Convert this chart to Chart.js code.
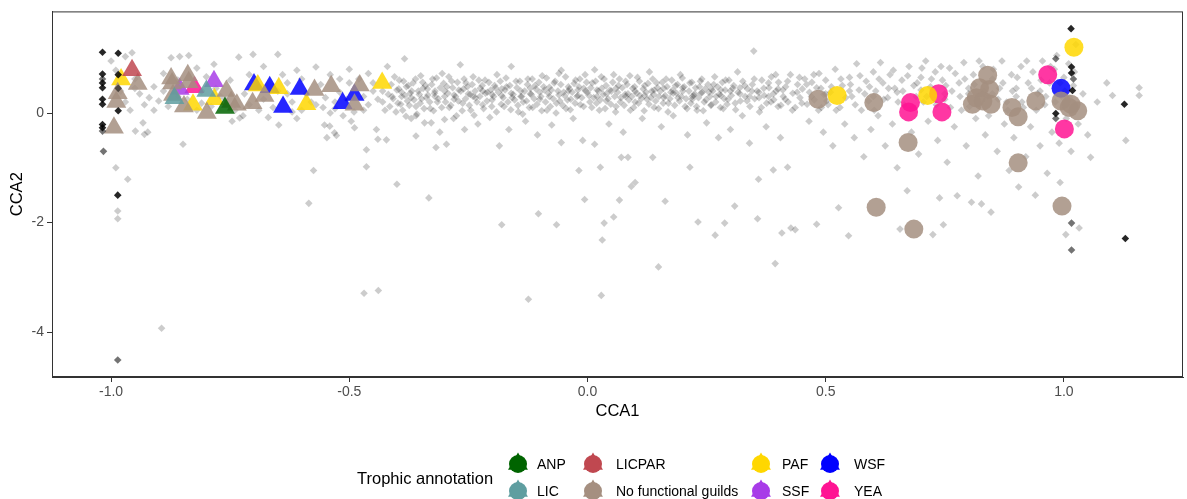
<!DOCTYPE html>
<html>
<head>
<meta charset="utf-8">
<script src="https://cdn.jsdelivr.net/npm/chart.js@4/dist/chart.umd.min.js"></script>
<style>
  body { margin: 0; background: #fff; }
  #wrap { width: 1187px; height: 499px; }
</style>
</head>
<body>
<div id="wrap"><canvas id="ccaPlot" width="1187" height="499"></canvas></div>
<script>
// axis ticks
let xTickValues = [-1.0, -0.5, 0.0, 0.5, 1.0];
let yTickValues = [-4, -2, 0];

// trophic guilds (legend order)
let guildNames = ["ANP", "LIC", "LICPAR", "No functional guilds", "PAF", "SSF", "WSF", "YEA"];
let guildColors = ["#006400", "#5F9EA0", "#C04850", "#A58F80", "#FFD700", "#A83CE8", "#0000FF", "#FF1493"];

// [CCA1, CCA2] per guild
let anpPoints = [[-0.761, 0.09]];
let licPoints = [[-0.867, 0.27], [-0.80, 0.40]];
let licparPoints = [[-0.956, 0.78]];
let nfgPoints = [
  [-0.944, 0.53], [-0.986, 0.36], [-0.989, 0.20], [-0.994, -0.27], [-0.874, 0.63], [-0.839, 0.69],
  [-0.872, 0.54], [-0.837, 0.56], [-0.870, 0.33], [-0.847, 0.12], [-0.799, 0.0], [-0.758, 0.40],
  [-0.748, 0.20], [-0.736, 0.15], [-0.703, 0.18], [-0.678, 0.31], [-0.573, 0.42], [-0.538, 0.49],
  [-0.478, 0.50], [-0.489, 0.15],
  [0.484, 0.25], [0.601, 0.19], [0.673, -0.54], [0.904, -0.91], [0.606, -1.72], [0.685, -2.12],
  [0.996, -1.70], [0.84, 0.69], [0.823, 0.46], [0.844, 0.43], [0.816, 0.28], [0.83, 0.22],
  [0.847, 0.16], [0.808, 0.16], [0.891, 0.10], [0.904, -0.07], [0.941, 0.22], [0.994, 0.22],
  [1.015, 0.16], [1.029, 0.04], [1.011, 0.10]
];
let pafPoints = [
  [-0.979, 0.61], [-0.828, 0.15], [-0.783, 0.25], [-0.692, 0.50], [-0.648, 0.45], [-0.59, 0.16],
  [-0.431, 0.55], [0.524, 0.32], [0.714, 0.32], [1.021, 1.20]
];
let ssfPoints = [[-0.856, 0.44], [-0.784, 0.58]];
let wsfPoints = [
  [-0.70, 0.52], [-0.667, 0.47], [-0.639, 0.11], [-0.604, 0.44], [-0.514, 0.18], [-0.489, 0.33],
  [0.994, 0.45]
];
let yeaPoints = [
  [-0.825, 0.47], [0.678, 0.19], [0.674, 0.02], [0.737, 0.35], [0.744, 0.02], [0.966, 0.70], [1.001, -0.29]
];

// taxa without guild (grey diamonds)
let backgroundTaxa = [
  // left part
  [-1.00, 0.95], [-0.99, 0.78], [-0.97, 1.03], [-0.956, 1.10], [-0.95, 0.62], [-0.94, 0.35], [-0.93, 0.15],
  [-0.933, -0.18], [-0.949, -0.33], [-0.93, -0.39], [-0.923, -0.35], [-0.91, 0.48], [-0.90, 0.22],
  [-0.89, 0.72], [-0.874, 1.01], [-0.856, 1.03], [-0.837, 1.05], [-0.849, -0.57], [-0.86, 0.30],
  [-0.82, 0.82], [-0.81, 0.18], [-0.80, 0.66], [-0.784, 0.89], [-0.77, 0.30], [-0.746, -0.15],
  [-0.732, 1.02], [-0.73, -0.09], [-0.723, -0.05], [-0.702, 1.07], [-0.71, 0.70], [-0.69, 0.05],
  [-0.68, 0.85], [-0.67, -0.08], [-0.65, 1.07], [-0.648, -0.22], [-0.64, 0.70], [-0.63, 0.35],
  [-0.62, 0.02], [-0.61, 0.78], [-0.60, 0.62], [-0.585, -1.65], [-0.575, -1.05], [-0.58, 0.20],
  [-0.57, 0.84], [-0.552, -0.22], [-0.541, -0.24], [-0.547, -0.45], [-0.531, -0.36], [-0.527, -0.41],
  [-0.54, 0.70], [-0.52, 0.62], [-0.513, -0.05], [-0.496, -0.15], [-0.489, -0.27], [-0.50, 0.80],
  [-0.48, 0.62], [-0.47, 0.05], [-0.464, -0.67], [-0.464, -0.98], [-0.46, 0.72], [-0.45, 0.40],
  [-0.443, -0.30], [-0.44, -0.48], [-0.422, -0.49], [-0.43, 0.20], [-0.42, 0.85], [-0.41, 0.30],
  [-0.40, -1.30], [-0.469, -3.29], [-0.439, -3.24], [-0.894, -3.93], [-0.99, -1.00], [-0.965, -1.21],
  [-0.986, -1.79], [-0.986, -1.93],
  [-0.98, 0.40], [-0.97, 0.20], [-0.96, 0.05], [-0.95, 0.45], [-0.92, 0.28], [-0.91, 0.05], [-0.89, 0.40],
  [-0.88, 0.12], [-0.86, 0.60], [-0.84, 0.25], [-0.82, 0.05], [-0.81, 0.40], [-0.79, 0.12], [-0.78, 0.45],
  [-0.76, 0.25], [-0.75, 0.60], [-0.74, 0.05], [-0.72, 0.35], [-0.71, 0.15], [-0.69, 0.48], [-0.68, 0.25],
  [-0.66, 0.10], [-0.65, 0.40], [-0.63, 0.55], [-0.62, 0.20], [-0.60, 0.05], [-0.59, 0.35], [-0.57, 0.15],
  [-0.56, 0.52], [-0.55, 0.28], [-0.53, 0.08], [-0.52, 0.38], [-0.50, 0.55], [-0.49, 0.02], [-0.47, 0.30],
  [-0.46, 0.15], [-0.45, 0.55], [-0.44, 0.25], [-0.43, 0.40], [-0.425, 0.05], [-0.54, 0.00], [-0.61, -0.10],
  [-0.53, 0.20], [-0.555, 0.10], [-0.505, 0.25],
  // dense band, left of 0
  [-0.40, 0.42], [-0.398, 0.18], [-0.395, 0.60], [-0.39, 0.30], [-0.388, 0.05], [-0.384, 0.99],
  [-0.38, 0.48], [-0.378, 0.22], [-0.372, 0.36], [-0.37, -0.10], [-0.366, 0.55], [-0.36, 0.12],
  [-0.355, 0.40], [-0.35, 0.68], [-0.348, 0.26], [-0.342, -0.18], [-0.34, 0.50], [-0.335, 0.33],
  [-0.333, -1.55], [-0.33, 0.08], [-0.325, 0.62], [-0.32, 0.40], [-0.318, -0.63], [-0.315, 0.20],
  [-0.31, -0.35], [-0.305, 0.72], [-0.30, 0.30], [-0.296, -0.57], [-0.295, 0.48], [-0.29, 0.10],
  [-0.285, 0.58], [-0.28, 0.25], [-0.275, -0.05], [-0.27, 0.42], [-0.267, 0.88], [-0.262, 0.18],
  [-0.258, -0.30], [-0.255, 0.55], [-0.25, 0.35], [-0.245, 0.05], [-0.24, 0.66], [-0.235, 0.28],
  [-0.23, -0.20], [-0.225, 0.45], [-0.22, 0.15], [-0.215, 0.60], [-0.21, 0.38], [-0.205, -0.08],
  [-0.20, 0.24], [-0.195, 0.50], [-0.19, 0.70], [-0.185, -0.60], [-0.18, -2.04], [-0.18, 0.32],
  [-0.175, 0.12], [-0.17, 0.48], [-0.165, -0.30], [-0.16, 0.85], [-0.158, 0.28], [-0.15, 0.58],
  [-0.145, 0.02], [-0.14, 0.40], [-0.135, 0.20], [-0.13, -0.15], [-0.124, -3.40], [-0.125, 0.62],
  [-0.12, 0.35], [-0.115, 0.10], [-0.11, 0.50], [-0.105, -0.40], [-0.103, -1.84], [-0.10, 0.25],
  [-0.095, 0.68], [-0.09, 0.42], [-0.085, 0.05], [-0.08, 0.30], [-0.075, -0.22], [-0.07, 0.55],
  [-0.065, -2.04], [-0.065, 0.18], [-0.06, 0.72], [-0.055, 0.78], [-0.055, -0.54], [-0.05, 0.38],
  [-0.045, 0.08], [-0.04, 0.48], [-0.035, 0.25], [-0.03, -0.10], [-0.025, 0.60], [-0.02, 0.32],
  [-0.018, -1.05], [-0.015, 0.15], [-0.01, -0.50], [-0.008, 0.45], [-0.006, -1.58], [-0.005, 0.70],
  [-0.39, 0.38], [-0.37, 0.28], [-0.345, 0.45], [-0.32, 0.30], [-0.30, 0.40], [-0.28, 0.33],
  [-0.26, 0.44], [-0.24, 0.30], [-0.22, 0.40], [-0.20, 0.34], [-0.18, 0.44], [-0.16, 0.36],
  [-0.14, 0.30], [-0.12, 0.45], [-0.10, 0.38], [-0.08, 0.47], [-0.06, 0.33], [-0.04, 0.40],
  [-0.02, 0.42], [-0.36, -0.05], [-0.30, -0.12], [-0.328, -0.18], [-0.36, -0.42],
  [-0.418, 0.34], [-0.415, 0.12], [-0.412, 0.52], [-0.408, 0.26], [-0.405, 0.66], [-0.402, 0.02],
  [-0.396, 0.44], [-0.392, 0.16], [-0.386, 0.58], [-0.383, 0.32], [-0.381, -0.06], [-0.376, 0.50],
  [-0.374, 0.14], [-0.369, 0.40], [-0.364, 0.24], [-0.361, 0.62], [-0.358, -0.02], [-0.353, 0.34],
  [-0.351, 0.18], [-0.346, 0.56], [-0.343, 0.08], [-0.338, 0.28], [-0.336, 0.44], [-0.331, 0.20],
  [-0.327, 0.52], [-0.323, 0.04], [-0.321, 0.36], [-0.317, 0.64], [-0.313, 0.26], [-0.309, 0.46],
  [-0.306, 0.10], [-0.302, 0.54],
  [-0.298, 0.20], [-0.293, 0.36], [-0.291, 0.66], [-0.287, 0.14], [-0.283, 0.46], [-0.281, -0.10],
  [-0.277, 0.30], [-0.273, 0.56], [-0.271, 0.22], [-0.266, 0.40], [-0.263, 0.04], [-0.259, 0.62],
  [-0.256, 0.26], [-0.252, 0.48], [-0.248, 0.14], [-0.246, 0.34], [-0.242, 0.52], [-0.238, -0.04],
  [-0.236, 0.40], [-0.232, 0.20], [-0.228, 0.60], [-0.226, 0.30], [-0.221, 0.50], [-0.218, 0.08],
  [-0.214, 0.36], [-0.211, 0.22], [-0.207, 0.56], [-0.203, 0.42], [-0.201, 0.12], [-0.197, 0.30],
  [-0.193, 0.46], [-0.191, 0.02], [-0.187, 0.38], [-0.183, 0.58], [-0.181, 0.16], [-0.177, 0.28],
  [-0.173, 0.42], [-0.171, 0.64], [-0.167, 0.20], [-0.163, 0.50], [-0.161, 0.06], [-0.156, 0.34],
  [-0.153, 0.24],
  [-0.148, 0.46], [-0.146, 0.14], [-0.142, 0.58], [-0.138, 0.30], [-0.136, -0.02], [-0.132, 0.40],
  [-0.128, 0.22], [-0.126, 0.52], [-0.122, 0.10], [-0.118, 0.34], [-0.116, 0.62], [-0.112, 0.26],
  [-0.108, 0.44], [-0.106, 0.16], [-0.102, 0.56], [-0.098, 0.30], [-0.096, 0.04], [-0.092, 0.48],
  [-0.088, 0.20], [-0.086, 0.64], [-0.082, 0.36], [-0.078, 0.12], [-0.076, 0.42], [-0.072, 0.26],
  [-0.068, 0.58], [-0.066, 0.00], [-0.062, 0.40], [-0.058, 0.22], [-0.056, 0.52], [-0.052, 0.14],
  [-0.048, 0.32], [-0.046, 0.66], [-0.042, 0.24], [-0.038, 0.44], [-0.036, 0.06], [-0.032, 0.38],
  [-0.028, 0.54], [-0.026, 0.18], [-0.022, 0.30], [-0.018, 0.48], [-0.016, 0.62], [-0.012, 0.28],
  [-0.008, 0.12], [-0.004, 0.40], [-0.002, 0.56],
  // dense band, right of 0
  [0.0, 0.38], [0.005, 0.20], [0.01, 0.55], [0.015, 0.79], [0.015, -0.57], [0.02, 0.30], [0.025, 0.05],
  [0.027, -0.99], [0.029, -3.33], [0.03, 0.45], [0.031, -2.32], [0.035, -2.01], [0.055, -1.90],
  [0.035, 0.62], [0.04, 0.22], [0.045, -0.20], [0.05, 0.40], [0.055, 0.70], [0.06, 0.12], [0.065, 0.50],
  [0.067, -1.59], [0.07, 0.28], [0.071, -0.81], [0.075, -0.35], [0.08, 0.58], [0.085, -0.81],
  [0.085, 0.35], [0.09, 0.05], [0.092, -1.34], [0.095, 0.45], [0.10, -1.27], [0.10, 0.20],
  [0.105, 0.65], [0.11, 0.32], [0.115, -0.10], [0.12, 0.50], [0.125, 0.25], [0.13, 0.75], [0.135, 0.40],
  [0.137, -0.81], [0.14, 0.10], [0.145, 0.55], [0.149, -2.81], [0.15, 0.30], [0.155, -0.25],
  [0.16, 0.45], [0.163, -1.61], [0.165, 0.62], [0.17, 0.18], [0.175, 0.38], [0.18, -0.05], [0.185, 0.50],
  [0.19, 0.28], [0.195, 0.70], [0.20, 0.40], [0.205, 0.12], [0.21, -0.40], [0.215, -0.99], [0.215, 0.55],
  [0.22, 0.25], [0.225, 0.35], [0.23, 0.05], [0.232, -1.99], [0.235, 0.48], [0.24, 0.62], [0.245, 0.20],
  [0.25, -0.18], [0.255, 0.38], [0.26, 0.15], [0.265, 0.52], [0.268, -2.23], [0.27, 0.30], [0.275, -0.45],
  [0.28, 0.42], [0.285, 0.08], [0.288, -2.01], [0.29, 0.60], [0.295, 0.25], [0.30, -0.30], [0.305, 0.45],
  [0.309, -1.70], [0.31, 0.18], [0.315, 0.75], [0.32, 0.35], [0.325, -0.05], [0.33, 0.50], [0.335, 0.22],
  [0.34, -0.55], [0.345, 0.40], [0.349, 1.13], [0.35, 0.62], [0.357, -1.93], [0.359, -1.21], [0.36, 0.28],
  [0.365, 0.10], [0.37, 0.45], [0.375, -0.25], [0.38, 0.55], [0.385, 0.20], [0.39, -1.04], [0.39, 0.35],
  [0.394, -2.75], [0.395, 0.70], [0.40, 0.12], [0.405, -0.45], [0.408, -2.19], [0.41, 0.42], [0.415, 0.25],
  [0.42, -0.99], [0.42, 0.58], [0.427, -2.10], [0.43, 0.05], [0.436, -2.13], [0.44, 0.38], [0.445, 0.65],
  [0.45, 0.18],
  [0.02, 0.42], [0.04, 0.35], [0.06, 0.45], [0.08, 0.30], [0.10, 0.40], [0.12, 0.32], [0.14, 0.42],
  [0.16, 0.28], [0.18, 0.36], [0.20, 0.46], [0.22, 0.30], [0.24, 0.38], [0.26, 0.44], [0.28, 0.32],
  [0.30, 0.40], [0.32, 0.46], [0.34, 0.30], [0.36, 0.38], [0.38, 0.30], [0.40, 0.44],
  [0.003, 0.32], [0.007, 0.46], [0.009, 0.10], [0.013, 0.28], [0.017, 0.58], [0.019, 0.18], [0.023, 0.40],
  [0.027, 0.24], [0.029, 0.66], [0.033, 0.34], [0.037, 0.08], [0.039, 0.50], [0.043, 0.26], [0.047, 0.42],
  [0.049, 0.16], [0.053, 0.56], [0.057, 0.30], [0.059, 0.02], [0.063, 0.38], [0.067, 0.62], [0.069, 0.20],
  [0.073, 0.46], [0.077, 0.14], [0.079, 0.34], [0.083, 0.52], [0.087, 0.24], [0.089, 0.68], [0.093, 0.30],
  [0.097, 0.10], [0.099, 0.48], [0.103, 0.36], [0.107, 0.18], [0.109, 0.58], [0.113, 0.26], [0.117, 0.44],
  [0.119, 0.04], [0.123, 0.38], [0.127, 0.54], [0.129, 0.16], [0.133, 0.28], [0.137, 0.62], [0.139, 0.34],
  [0.143, 0.22], [0.147, 0.46], [0.149, 0.08],
  [0.153, 0.40], [0.157, 0.56], [0.159, 0.18], [0.163, 0.32], [0.167, 0.48], [0.169, 0.02], [0.173, 0.26],
  [0.177, 0.60], [0.179, 0.42], [0.183, 0.14], [0.187, 0.36], [0.189, 0.52], [0.193, 0.22], [0.197, 0.30],
  [0.199, 0.64], [0.203, 0.48], [0.207, 0.26], [0.209, 0.08], [0.213, 0.40], [0.217, 0.18], [0.219, 0.56],
  [0.223, 0.32], [0.227, 0.46], [0.229, 0.12], [0.233, 0.28], [0.237, 0.58], [0.239, 0.36], [0.243, 0.04],
  [0.247, 0.44], [0.249, 0.24], [0.253, 0.52], [0.257, 0.30], [0.259, 0.14], [0.263, 0.40], [0.267, 0.66],
  [0.269, 0.20], [0.273, 0.48], [0.277, 0.34], [0.279, 0.10], [0.283, 0.56], [0.287, 0.26], [0.289, 0.42],
  [0.293, 0.16], [0.297, 0.60],
  [0.302, 0.32], [0.307, 0.50], [0.311, 0.06], [0.316, 0.38], [0.321, 0.22], [0.326, 0.58], [0.331, 0.30],
  [0.336, 0.44], [0.341, 0.12], [0.346, 0.52], [0.351, 0.26], [0.356, 0.40], [0.361, 0.02], [0.366, 0.60],
  [0.371, 0.32], [0.376, 0.18], [0.381, 0.46], [0.386, 0.66], [0.391, 0.24], [0.396, 0.40], [0.401, 0.56],
  [0.406, 0.14], [0.411, 0.30], [0.416, 0.48], [0.421, 0.20], [0.426, 0.70], [0.431, 0.36], [0.436, 0.10],
  [0.441, 0.52], [0.446, 0.28], [0.451, 0.44], [0.456, 0.62], [0.461, 0.16], [0.466, 0.38], [0.471, 0.56],
  [0.476, 0.24], [0.481, 0.46], [0.486, 0.72], [0.491, 0.10], [0.496, 0.34],
  // right part
  [0.46, 0.52], [0.465, -0.15], [0.47, 0.30], [0.475, 0.70], [0.481, -2.03], [0.485, 0.05], [0.49, 0.45],
  [0.495, -0.35], [0.50, 0.60], [0.505, 0.15], [0.51, 0.38], [0.515, -0.60], [0.52, 0.80], [0.527, -1.73],
  [0.53, 0.10], [0.535, 0.50], [0.54, -0.20], [0.548, -2.24], [0.55, 0.65], [0.555, 0.30], [0.56, -0.45],
  [0.565, 0.90], [0.57, 0.42], [0.575, 0.05], [0.58, -0.80], [0.585, 0.58], [0.59, 0.22], [0.595, -0.30],
  [0.60, 0.75], [0.605, 0.40], [0.61, -0.05], [0.615, 0.92], [0.62, 0.55], [0.625, -0.60], [0.63, 0.28],
  [0.635, 0.70], [0.64, -0.20], [0.645, 0.45], [0.65, -1.0], [0.656, -2.12], [0.66, 0.60], [0.665, 0.15],
  [0.671, -1.42], [0.675, 0.85], [0.68, -0.35], [0.685, 0.50], [0.69, 0.30], [0.695, -0.75], [0.70, 0.65],
  [0.705, 0.20], [0.71, 0.95], [0.715, -0.15], [0.72, 0.48], [0.725, -2.22], [0.73, 0.75], [0.735, -0.50],
  [0.739, -1.55], [0.745, 0.60], [0.747, -2.04], [0.75, 0.25], [0.755, -0.90], [0.76, 0.82], [0.765, 0.40],
  [0.77, -0.25], [0.776, -1.51], [0.78, 0.55], [0.785, 0.05], [0.79, 0.92], [0.795, -0.60], [0.80, 0.35],
  [0.806, -1.63], [0.81, 0.70], [0.815, -0.10], [0.82, -1.15], [0.827, -1.66], [0.83, 0.85], [0.835, -0.40],
  [0.84, 0.30], [0.847, -1.81], [0.85, 0.62], [0.86, -0.70], [0.865, 0.45], [0.87, 0.95], [0.875, -0.20],
  [0.88, 0.20], [0.885, -1.05], [0.89, 0.70], [0.895, -0.45], [0.90, 0.45], [0.905, -1.35], [0.91, 0.85],
  [0.915, 0.10], [0.92, -0.80], [0.925, 0.55], [0.93, -0.25], [0.935, 0.75], [0.94, -1.50], [0.945, 0.35],
  [0.95, -0.60], [0.955, 0.95], [0.96, 0.15], [0.965, -1.10], [0.97, 0.55], [0.975, -0.35], [0.98, 0.80],
  [0.985, 1.05], [0.99, -0.55], [0.992, -1.27], [0.995, 0.30], [1.0, 0.65], [1.004, -2.22], [1.005, -0.10],
  [1.01, 0.90], [1.015, -0.70], [1.02, 0.50], [1.025, 1.25], [1.03, -0.20], [1.032, -2.10], [1.04, 0.35],
  [1.05, -0.40], [1.056, -0.81], [1.07, 0.20], [1.09, 0.55], [1.102, 0.32], [1.158, 0.46], [1.158, 0.32],
  [1.13, -0.50],
  [0.50, 0.35], [0.55, 0.40], [0.60, 0.30], [0.65, 0.38], [0.70, 0.42], [0.75, 0.35], [0.80, 0.45],
  [0.85, 0.35], [0.90, 0.30], [0.95, 0.40],
  [0.502, 0.22], [0.512, 0.48], [0.522, 0.05], [0.532, 0.62], [0.542, 0.28], [0.552, 0.52], [0.562, 0.15],
  [0.572, 0.68], [0.582, 0.35], [0.592, 0.48], [0.602, 0.05], [0.612, 0.62], [0.622, 0.25], [0.632, 0.45],
  [0.642, 0.78], [0.652, 0.20], [0.662, 0.40], [0.672, 0.68], [0.682, 0.10], [0.692, 0.55], [0.702, 0.82],
  [0.712, 0.30], [0.722, 0.62], [0.732, 0.15], [0.742, 0.85], [0.752, 0.50], [0.762, 0.10], [0.772, 0.72],
  [0.782, 0.30], [0.792, 0.62], [0.802, 0.12], [0.812, 0.52], [0.822, 0.95], [0.832, 0.40], [0.842, -0.05],
  [0.852, 0.80], [0.862, 0.25], [0.872, 0.55], [0.882, 0.05], [0.892, 0.40], [0.902, 0.65], [0.912, 0.20],
  [0.922, 0.95], [0.932, 0.45], [0.942, 0.05], [0.952, 0.60], [0.962, 0.30], [0.972, 0.85], [0.982, 0.20],
  [0.992, 0.55], [1.002, 0.40], [1.012, 0.28], [1.022, 0.75]
];

let darkTaxa = [
  [-1.016, -0.70], [-1.018, -0.33], [-0.986, -4.51], [-1.018, 0.62], [-0.985, 0.45], [0.983, 0.99],
  [1.016, -2.01], [1.016, -2.50], [0.983, -0.10], [1.02, 0.62]
];
let blackTaxa = [
  [-1.018, 1.11], [-0.985, 1.09], [-1.018, 0.71], [-0.985, 0.70], [-1.018, 0.55], [-1.018, 0.46],
  [-1.018, 0.25], [-1.018, 0.16], [-0.985, 0.04], [-1.018, -0.21], [-1.018, -0.27], [-0.986, -1.50],
  [1.015, 1.54], [1.016, 0.84], [1.016, 0.73], [1.018, 0.41], [0.983, -0.01], [1.127, 0.16], [1.129, -2.29]
];

let guildPoints = [anpPoints, licPoints, licparPoints, nfgPoints, pafPoints, ssfPoints, wsfPoints, yeaPoints];

function toXY(list) {
  return list.map(p => ({ x: p[0], y: p[1] }));
}

function withAlpha(hex, a) {
  let r = parseInt(hex.slice(1, 3), 16);
  let g = parseInt(hex.slice(3, 5), 16);
  let b = parseInt(hex.slice(5, 7), 16);
  return "rgba(" + r + "," + g + "," + b + "," + a + ")";
}

let fontFamily = '"Liberation Sans", Arial, sans-serif';

let datasets = [];
datasets.push({
  label: "dark", data: toXY(blackTaxa), order: 1,
  pointStyle: "rectRot", pointRadius: 3.8, borderWidth: 0,
  backgroundColor: "rgba(0,0,0,0.85)"
});
datasets.push({
  label: "dark2", data: toXY(darkTaxa), order: 1,
  pointStyle: "rectRot", pointRadius: 3.8, borderWidth: 0,
  backgroundColor: "rgba(0,0,0,0.55)"
});
for (let i = 0; i < guildNames.length; i++) {
  datasets.push({
    label: guildNames[i],
    data: toXY(guildPoints[i]),
    order: 5,
    // triangles on the negative CCA1 side, circles on the positive side
    pointStyle: ctx => (ctx.raw && ctx.raw.x < 0 ? "triangle" : "circle"),
    pointRadius: ctx => (ctx.raw && ctx.raw.x < 0 ? 11.5 : 9.5),
    borderWidth: 0,
    backgroundColor: withAlpha(guildColors[i], 0.85)
  });
}
datasets.push({
  label: "other", data: toXY(backgroundTaxa), order: 10,
  pointStyle: "rectRot", pointRadius: 3.8, borderWidth: 0,
  backgroundColor: "rgba(0,0,0,0.2)"
});

function drawGuildSymbol(ctx, x, y, color) {
  ctx.fillStyle = color;
  ctx.beginPath();
  ctx.arc(x, y, 9, 0, Math.PI * 2);
  ctx.fill();
  ctx.beginPath();
  for (let k = 0; k < 3; k++) {
    let a = k * 2 * Math.PI / 3;
    let px = x + Math.sin(a) * 11.5;
    let py = y - Math.cos(a) * 11.5;
    if (k == 0) ctx.moveTo(px, py); else ctx.lineTo(px, py);
  }
  ctx.closePath();
  ctx.fill();
}

// panel box + legend at the bottom (columns filled top to bottom like ggplot)
const panelAndLegend = {
  id: "panelAndLegend",
  afterDraw(chart) {
    let ctx = chart.ctx;
    let area = chart.chartArea;
    ctx.save();
    ctx.strokeStyle = "#333333";
    ctx.lineWidth = 1;
    ctx.strokeRect(area.left + 0.5, area.top + 0.5, area.right - area.left - 1, area.bottom - area.top - 1);

    ctx.textBaseline = "middle";
    ctx.textAlign = "left";
    ctx.fillStyle = "#000";
    ctx.font = "16.5px " + fontFamily;
    ctx.fillText("Trophic annotation", 357, 479);

    let symbolX = [518, 593, 761, 830];
    let textX = [537, 616, 782, 854];
    let rowY = [464, 491];
    ctx.font = "14px " + fontFamily;
    for (let i = 0; i < guildNames.length; i++) {
      let col = Math.floor(i / 2);
      let row = i % 2;
      drawGuildSymbol(ctx, symbolX[col], rowY[row], guildColors[i]);
      ctx.fillStyle = "#000";
      ctx.fillText(guildNames[i], textX[col], rowY[row] + 1);
    }
    ctx.restore();
  }
};

let axisGrid = { display: true, drawOnChartArea: false, drawTicks: true, tickLength: 5, tickColor: "#333333" };

new Chart(document.getElementById("ccaPlot"), {
  type: "scatter",
  data: { datasets: datasets },
  options: {
    responsive: false,
    animation: false,
    events: [],
    layout: { autoPadding: false, padding: { top: 10, right: 4, left: 0, bottom: 78 } },
    plugins: { legend: { display: false }, tooltip: { enabled: false } },
    scales: {
      x: {
        type: "linear", min: -1.124, max: 1.25,
        grid: axisGrid,
        border: { display: true, color: "#333333", width: 1 },
        afterBuildTicks: scale => { scale.ticks = xTickValues.map(v => ({ value: v })); },
        afterFit: scale => { scale.height = 44; },
        ticks: {
          color: "#4D4D4D", font: { family: fontFamily, size: 14 }, padding: 2,
          maxRotation: 0, autoSkip: false,
          callback: v => Number(v).toFixed(1)
        },
        title: { display: true, text: "CCA1", color: "#000", font: { family: fontFamily, size: 16.5 }, padding: { top: 0, bottom: 0 } }
      },
      y: {
        type: "linear", min: -4.82, max: 1.855,
        grid: axisGrid,
        border: { display: true, color: "#333333", width: 1 },
        afterBuildTicks: scale => { scale.ticks = yTickValues.map(v => ({ value: v })); },
        afterFit: scale => { scale.width = 52; },
        ticks: {
          color: "#4D4D4D", font: { family: fontFamily, size: 14 }, padding: 3,
          callback: v => String(v)
        },
        title: { display: true, text: "CCA2", color: "#000", font: { family: fontFamily, size: 16.5 }, padding: { top: 8, bottom: 0 } }
      }
    }
  },
  plugins: [panelAndLegend]
});
</script>
</body>
</html>
